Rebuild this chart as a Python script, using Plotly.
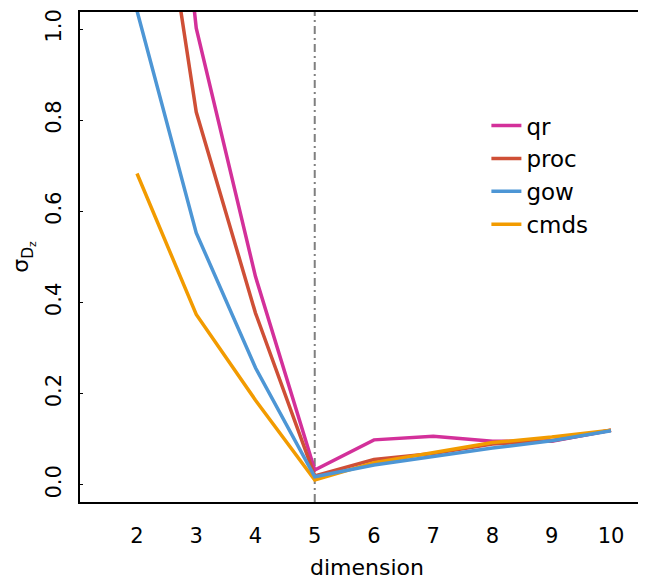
import plotly.graph_objects as go

dimension = [2, 3, 4, 5, 6, 7, 8, 9, 10]
qr = [2.2, 1.002, 0.457, 0.033, 0.099, 0.107, 0.096, 0.096, 0.12]
proc = [1.67, 0.818, 0.377, 0.02, 0.056, 0.069, 0.09, 0.097, 0.12]
gow = [1.04, 0.553, 0.257, 0.018, 0.044, 0.062, 0.081, 0.097, 0.119]
cmds = [0.683, 0.374, 0.186, 0.011, 0.049, 0.071, 0.093, 0.105, 0.12]
x_ticks = [2, 3, 4, 5, 6, 7, 8, 9, 10]
y_ticks = [0.0, 0.2, 0.4, 0.6, 0.8, 1.0]
y_ticklabels = ["0.0", "0.2", "0.4", "0.6", "0.8", "1.0"]
chosen_dim = 5

series = [
    ("qr", qr, "#D3309A", 1),
    ("proc", proc, "#CF4F36", 2),
    ("cmds", cmds, "#F29B00", 4),
    ("gow", gow, "#4D96D5", 3),
]

FONT = "DejaVu Sans"
fig = go.Figure()
for name, vals, color, rank in series:
    fig.add_trace(go.Scatter(
        x=dimension, y=vals, mode="lines", name=name,
        line=dict(color=color, width=3.5),
        legendrank=rank, cliponaxis=True,
    ))

fig.add_shape(type="line", x0=chosen_dim, x1=chosen_dim, xref="x", y0=0, y1=1, yref="paper",
              line=dict(color="#7f7f7f", width=2, dash="8px,4px,2px,4px"), layer="below")

fig.update_layout(
    width=646, height=579,
    margin=dict(l=72, r=0, t=4, b=85, autoexpand=False),
    paper_bgcolor="white", plot_bgcolor="white",
    font=dict(family=FONT, size=21, color="black"),
    showlegend=True,
    legend=dict(x=0.708, y=0.812, xanchor="left", yanchor="top",
                font=dict(size=23, family=FONT), bgcolor="rgba(0,0,0,0)",
                traceorder="normal"),
    xaxis=dict(range=[1.038, 10.726], tickvals=x_ticks, ticks="", showgrid=False,
               zeroline=False, showline=True, linecolor="black", linewidth=2,
               mirror=True, ticklabelstandoff=14, automargin=False,
               tickfont=dict(size=21),
               title=dict(text="dimension", font=dict(size=22, family=FONT), standoff=12)),
    yaxis=dict(range=[-0.0373, 1.0373], tickvals=y_ticks, ticktext=y_ticklabels,
               ticks="inside", ticklen=3, tickwidth=1, tickcolor="black",
               tickangle=-90, showgrid=False, zeroline=False, showline=True,
               linecolor="black", linewidth=2, ticklabelstandoff=9, automargin=False,
               tickfont=dict(size=21),
               title=dict(text="σ<sub>D<sub>z</sub></sub>", font=dict(size=22, family=FONT), standoff=14)),
)

fig.write_html("out.html")
